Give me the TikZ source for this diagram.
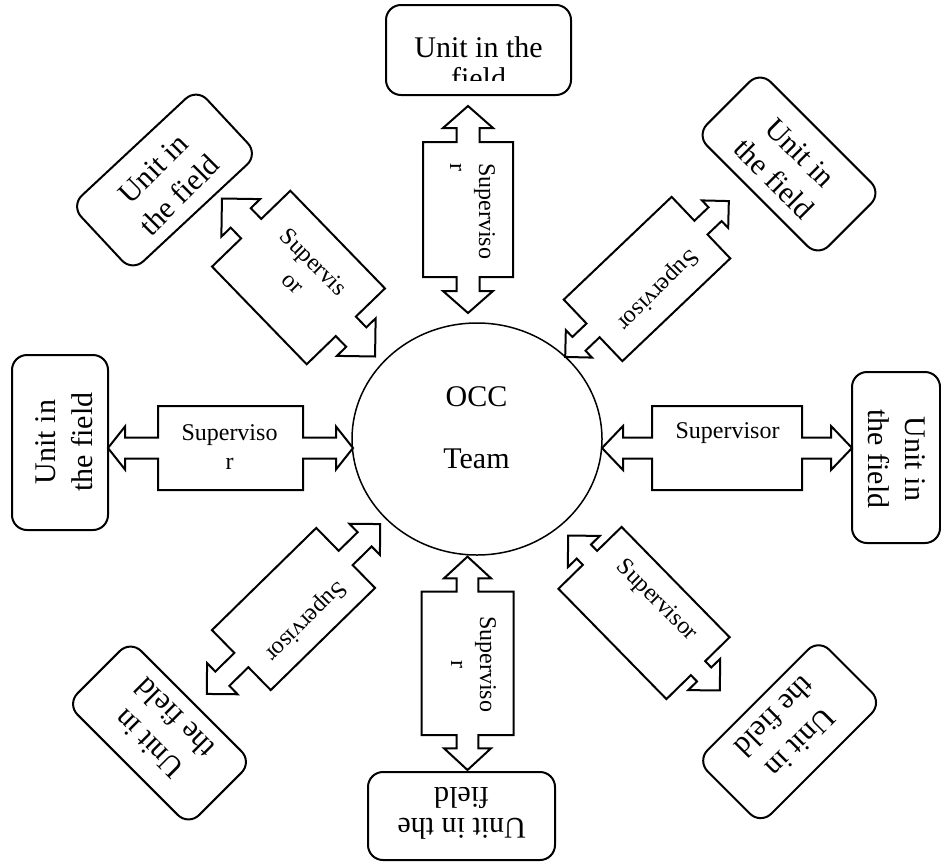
\documentclass[tikz,border=0pt]{standalone}
\usepackage{fontspec}
\setmainfont{Liberation Serif}
\usetikzlibrary{shapes.geometric}

% centred / left-aligned stacks of lines; the baseline is that of the first line
\newcommand{\stk}[1]{\vtop{\halign{\hfil##\hfil\cr#1\crcr}}}
\newcommand{\stkl}[1]{\vtop{\halign{##\hfil\cr#1\crcr}}}

\tikzset{
  outline/.style={draw=black, line width=2pt, fill=white, miter limit=10},
  unitbox/.style={draw=black, line width=2pt, rounded corners=15pt, inner sep=0pt, fill=white},
  unittext/.style={font=\fontsize{30}{37}\selectfont, inner sep=0pt, anchor=base},
  widetext/.style={font=\fontsize{30}{31}\selectfont, inner sep=0pt, anchor=base},
  suptext/.style={font=\fontsize{24}{29}\selectfont, inner sep=0pt, anchor=base},
  % double-headed callout: tip, head base, body half length, body half width, neck half width, head half width
  pics/callout/.style n args={6}{code={
    \draw[outline] (#1,0) -- (#2,#6) -- (#2,#5) -- (#3,#5) -- (#3,#4) -- (-#3,#4)
      -- (-#3,#5) -- (-#2,#5) -- (-#2,#6) -- (-#1,0) -- (-#2,-#6) -- (-#2,-#5)
      -- (-#3,-#5) -- (-#3,-#4) -- (#3,-#4) -- (#3,-#5) -- (#2,-#5) -- (#2,-#6) -- cycle;
  }},
}

\begin{document}
\begin{tikzpicture}[x=1pt, y=-1pt]
\fill[white] (0,0) rectangle (941,862);
\useasboundingbox (0,0) rectangle (941,862);

% central team
\node[ellipse, draw, line width=1.5pt, minimum width=250pt, minimum height=232pt, inner sep=0pt] (occ) at (477,439) {};
\node[font=\fontsize{30}{61.6}\selectfont, inner sep=0pt, anchor=base] (occlabel) at (476.5,406.7) {\stk{OCC\cr Team}};

% units in the field
\node[unitbox, minimum width=185pt, minimum height=90pt] (uN) at (478.5,50) {};
\node[unitbox, minimum width=187pt, minimum height=88pt] (uS) at (461.5,816) {};
\node[unitbox, minimum width=96pt, minimum height=175pt] (uW) at (60,442.5) {};
\node[unitbox, minimum width=88pt, minimum height=171pt] (uE) at (896,457.5) {};
\node[unitbox, minimum width=172pt, minimum height=90pt, rotate=43] (uNW) at (164.5,180) {};
\node[unitbox, minimum width=172pt, minimum height=90pt, rotate=-45] (uNE) at (789,164) {};
\node[unitbox, minimum width=172pt, minimum height=90pt, rotate=-45] (uSW) at (159.5,733) {};
\node[unitbox, minimum width=172pt, minimum height=90pt, rotate=45] (uSE) at (789.6,731.7) {};

% the second line of the wide boxes runs past their text area and is cut off
\begin{scope}
  \clip (394,13) rectangle (563,80);
  \node[widetext] (tN) at (478.5,57) {\stk{Unit in the\cr field}};
\end{scope}
\begin{scope}
  \clip (376,787) rectangle (547,852);
  \node[widetext, rotate=180] (tS) at (461.7,818) {\stk{Unit in the\cr field}};
\end{scope}
\node[unittext, rotate=90] (tW) at (55,442) {\stk{Unit in\cr the field}};
\node[unittext, rotate=-90] (tE) at (905,459) {\stk{Unit in\cr the field}};
\node[unittext, rotate=45] (tNW) at (160.3,175.8) {\stk{Unit in\cr the field}};
\node[unittext, rotate=-45] (tNE) at (793.2,159.8) {\stk{Unit in\cr the field}};
\node[unittext, rotate=135] (tSW) at (155.3,737.2) {\stk{Unit in\cr the field}};
\node[unittext, rotate=225] (tSE) at (793.8,735.9) {\stk{Unit in\cr the field}};

% supervisor callouts
\pic[rotate=90] at (468,209.5) {callout={103.5}{81.5}{67.5}{45}{11.5}{25}};
\pic[rotate=90] at (467.5,663.3) {callout={106.7}{85}{71.7}{46}{10.8}{23.5}};
\pic at (230.5,448) {callout={122.5}{105.5}{72.5}{42}{10.5}{21.5}};
\pic at (727,448) {callout={125}{104}{75}{42}{10.5}{22}};
\pic[rotate=-45.9] at (298.5,277.5) {callout={110}{83}{68}{54.5}{14}{27}};
\pic[rotate=43.6] at (647,279) {callout={113}{94}{74.5}{42.5}{9.5}{19}};
\pic[rotate=44.4] at (293.5,609) {callout={121.4}{99.6}{73}{42}{10}{21.8}};
\pic[rotate=-45.6] at (644,613) {callout={108.4}{86}{77.2}{44.2}{10}{22.4}};

\node[suptext, rotate=-90, anchor=base west] (sN) at (479,163) {\stkl{Superviso\cr r}};
\node[suptext, rotate=-90] (sS) at (480,664) {\stk{Superviso\cr r}};
\node[suptext] (sW) at (229.5,440) {\stk{Superviso\cr r}};
\node[suptext] (sE) at (727.5,438) {Supervisor};
\node[suptext, rotate=-45] (sNW) at (308.4,267.6) {\stk{Supervis\cr or}};
\node[suptext, rotate=225] (sNE) at (653.4,285.4) {Supervisor};
\node[suptext, rotate=225] (sSW) at (301.3,616.8) {Supervisor};
\node[suptext, rotate=-45] (sSE) at (652.5,604.5) {Supervisor};
\end{tikzpicture}
\end{document}
